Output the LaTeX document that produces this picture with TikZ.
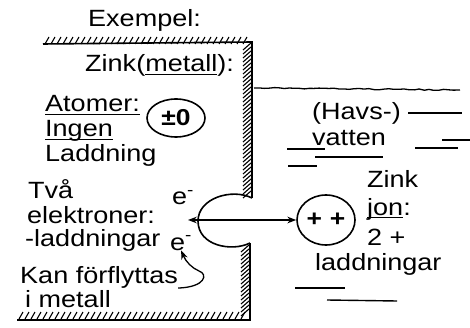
\documentclass[tikz,border=0pt]{standalone}
\usepackage{fontspec}
\setmainfont[FakeStretch=1.15]{Liberation Sans}
\usetikzlibrary{arrows.meta}
\usetikzlibrary{shapes.geometric}
\usetikzlibrary{decorations.pathmorphing}

% underline sitting just under the baseline
\newcommand{\under}[1]{\setbox0\hbox{#1}\rlap{\rule[-3pt]{\wd0}{1.1pt}}\box0}

\begin{document}
\begin{tikzpicture}[
		x=1pt, y=-1pt,
		lbl/.style={anchor=base west, inner sep=0pt, font=\fontsize{23.5}{24}\selectfont},
		wall/.style={line width=1.6pt},
		hatch/.style={line width=1.1pt},
		surface/.style={line width=1.3pt, decorate, decoration={random steps, segment length=5pt, amplitude=0.6pt}},
		ripple/.style={line width=1.4pt},
		charge/.style={draw, ellipse, line width=1.6pt, inner sep=0pt, font=\fontsize{23}{24}\selectfont\bfseries},
		arr/.style={line width=1.3pt},
	]
		\useasboundingbox (0,0) rectangle (470,328);
		\pgfmathsetseed{7}

		% metal block: walls with hatching
		\draw[wall] (43,44) -- (252,42) -- (252,198);
		\foreach \x in {45,51,...,245} \draw[hatch] (\x,44) -- (\x+4,37);
		\foreach \y in {46,50,...,194} \draw[hatch] (243,\y+4) -- (251,\y-3);
		\draw[wall] (250,243) -- (250,320) -- (17,320);
		\foreach \y in {248,252,...,314} \draw[hatch] (241,\y+4) -- (249,\y-3);
		\foreach \x in {19,25,...,243} \draw[hatch] (\x,319) -- (\x+4,312);

		% hole left by the ion
		\draw[wall] (252,198) .. controls (232,188) and (198,198) .. (198,221)
			.. controls (198,246) and (232,252) .. (250,243);
		\coordinate (gap) at (188,220);

		% sea water
		\draw[surface] (254,88) -- (460,90);
		\foreach \a/\b/\c/\d in {408/113/462/113, 442/140/470/140, 415/148/458/148,
			287/149/325/149, 315/157/383/157, 288/166/317/166,
			295/288/345/288, 327/300/397/301}
			\draw[ripple] (\a,\b) -- (\c,\d);

		\node[lbl] (title) at (88,27) {Exempel:};
		\node[lbl] (metal) at (85,72) {Zink(\under{metall}):};
		\node[lbl] (atom) at (45,112) {\under{Atomer:}};
		\node[lbl] (none) at (45,137) {\under{Ingen}};
		\node[lbl] (load) at (45,162) {Laddning};
		\node[charge, minimum width=58pt, minimum height=38pt] (neutral) at (176,118) {±0};

		\node[lbl] (two) at (28,199) {Två};
		\node[lbl] (elec) at (27,223) {elektroner:};
		\node[lbl] (neg) at (25,247) {-laddningar};
		\node[lbl] (move) at (20,283) {Kan förflyttas};
		\node[lbl] (inmetal) at (25,307) {i metall};
		\node[lbl] (ea) at (172,205) {e\textsuperscript{-}};
		\node[lbl] (eb) at (170,250) {e\textsuperscript{-}};

		\node[lbl] (sea) at (312,120) {(Havs-)};
		\node[lbl] (water) at (312,146) {vatten};
		\node[charge, minimum width=58pt, minimum height=50pt] (ion) at (326,220) {+\,\,+};
		\node[lbl] (zinc) at (367,188) {Zink};
		\node[lbl] (jon) at (367,215) {\under{jon}:};
		\node[lbl] (plus) at (367,245) {2 +};
		\node[lbl] (pos) at (315,270) {laddningar};

		\draw[arr, Stealth-Stealth] (gap) -- (ion.west);
		\coordinate (bend) at (199,271);
		\draw[arr, -Stealth] (move.south east) .. controls (206,287) and (208,274) .. (bend)
			.. controls (192,268) and (186,262) .. (eb.south);
	\end{tikzpicture}
\end{document}
